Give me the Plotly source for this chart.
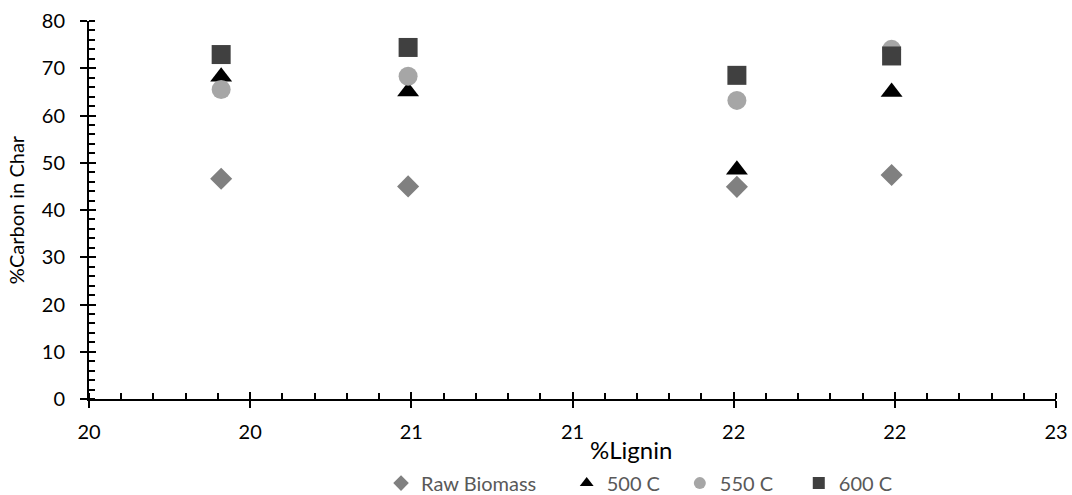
import plotly.graph_objects as go

lignin = [19.91, 20.49, 21.51, 21.99]
raw_biomass = [46.6, 45.0, 44.9, 47.4]
c500 = [68.2, 65.1, 48.5, 65.0]
c550 = [65.5, 68.3, 63.2, 74.0]
c600 = [72.9, 74.4, 68.5, 72.6]

x_tickvals = [19.5, 20.0, 20.5, 21.0, 21.5, 22.0, 22.5]
x_ticktext = ["20", "20", "21", "21", "22", "22", "23"]
y_tickvals = [0, 10, 20, 30, 40, 50, 60, 70, 80]

FONT = "Lato, Liberation Sans, sans-serif"

fig = go.Figure()
series = [
    ("Raw Biomass", raw_biomass, "diamond", "#808080", 17, "legend", 0.302),
    ("500 C", c500, "triangle-up", "#000000", 19, "legend2", 0.494),
    ("550 C", c550, "circle", "#a6a6a6", 19, "legend3", 0.611),
    ("600 C", c600, "square", "#404040", 19, "legend4", 0.734),
]
legend_layout = {}
for name, vals, sym, col, sz, lg, lx in series:
    fig.add_trace(go.Scatter(
        x=lignin, y=vals, mode="markers", name=name, legend=lg,
        marker=dict(symbol=sym, color=col, size=sz, line=dict(width=0)),
    ))
    legend_layout[lg] = dict(orientation="h", x=lx, xanchor="left",
                             yref="container", y=0.024, yanchor="middle",
                             font=dict(size=20, color="#595959"), itemwidth=30,
                             itemsizing="constant", bgcolor="rgba(0,0,0,0)")

# invisible trace on overlay axes so inside major ticks appear (crossing ticks)
fig.add_trace(go.Scatter(x=[x_tickvals[0]], y=[0], xaxis="x2", yaxis="y2",
                         mode="markers", marker=dict(opacity=0), showlegend=False,
                         hoverinfo="skip"))

fig.update_layout(
    width=1072, height=495,
    margin=dict(l=89, r=16, t=21, b=96, autoexpand=False),
    paper_bgcolor="white", plot_bgcolor="white",
    font=dict(family=FONT, size=20, color="#000000"),
    showlegend=True,
    **legend_layout,
    xaxis=dict(range=[19.5, 22.5], tickvals=x_tickvals, ticktext=x_ticktext,
               showgrid=False, zeroline=False, showline=True, linecolor="black",
               linewidth=2, ticks="outside", ticklen=7, tickwidth=2, tickcolor="black",
               minor=dict(dtick=0.1, ticks="inside", ticklen=6, tickwidth=2,
                          tickcolor="black", showgrid=False),
               tickfont=dict(size=20), ticklabelstandoff=7, automargin=False),
    yaxis=dict(range=[0, 80], tickvals=y_tickvals, showgrid=False, zeroline=False,
               showline=True, linecolor="black", linewidth=2,
               ticks="outside", ticklen=7, tickwidth=2, tickcolor="black",
               minor=dict(dtick=2, ticks="inside", ticklen=6, tickwidth=2,
                          tickcolor="black", showgrid=False),
               title=dict(text="%Carbon in Char", font=dict(size=20), standoff=12),
               tickfont=dict(size=20), ticklabelstandoff=11, automargin=False),
    xaxis2=dict(range=[19.5, 22.5], overlaying="x", tickvals=x_tickvals,
                showticklabels=False, ticks="inside", ticklen=7, tickwidth=2,
                tickcolor="black", showgrid=False, zeroline=False, showline=False,
                side="bottom", anchor="y2"),
    yaxis2=dict(range=[0, 80], overlaying="y", tickvals=y_tickvals,
                showticklabels=False, ticks="inside", ticklen=7, tickwidth=2,
                tickcolor="black", showgrid=False, zeroline=False, showline=False,
                side="left", anchor="x2"),
    annotations=[dict(text="%Lignin", xref="paper", yref="paper", x=0.5605, y=-0.09,
                      xanchor="center", yanchor="top", showarrow=False,
                      font=dict(size=24, color="black"))],
)

fig.write_html("out.html")
